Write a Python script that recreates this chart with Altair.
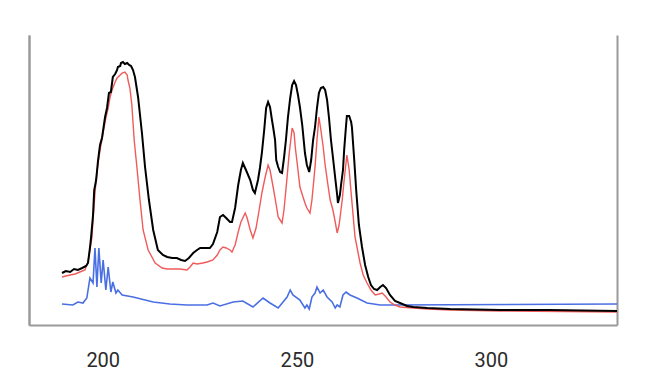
import altair as alt
import pandas as pd

# Black spectrum (total)
black_x = [189.5, 190.5, 191.6, 192.6, 193.6, 194.7, 195.7, 196.2, 196.7, 197.0, 197.5, 197.8, 198.3, 198.8,
           199.3, 199.8, 200.3, 200.6, 201.1, 201.6, 202.1, 202.6, 203.2, 203.7, 203.9, 204.5, 204.7, 205.2,
           205.7, 206.3, 206.8, 207.3, 207.8, 208.3, 209.1, 210.1, 210.9, 211.9, 213.0, 214.2, 215.5, 216.6,
           217.9, 219.1, 220.2, 221.2, 222.2, 223.3, 224.3, 225.1, 226.4, 227.6, 228.4, 229.5, 230.2, 231.0,
           231.8, 232.8, 233.3, 234.1, 234.9, 235.6, 236.1, 236.9, 238.0, 238.7, 239.2, 240.0, 240.5, 241.0,
           241.6, 242.1, 242.6, 243.1, 243.6, 243.9, 244.4, 244.7, 245.2, 245.7, 246.2, 246.7, 247.2, 247.7,
           248.3, 248.8, 249.3, 249.8, 250.3, 250.8, 251.4, 252.1, 252.6, 253.2, 253.7, 254.2, 254.7, 255.2,
           255.7, 256.2, 256.8, 257.3, 257.8, 258.3, 258.8, 259.3, 259.9, 260.4, 260.6, 261.1, 261.4, 261.9,
           262.2, 262.7, 262.9, 263.5, 264.0, 264.2, 264.8, 265.3, 265.5, 266.0, 266.8, 267.6, 268.4, 269.1,
           269.9, 270.7, 271.5, 272.2, 273.0, 274.0, 275.3, 276.6, 278.4, 280.0, 283.6, 289.5, 302.4, 315.3,
           332.5]
black_y = [52, 54, 53, 56, 55, 57, 59, 62, 77, 88, 110, 135, 145, 165,
           180, 187, 200, 208, 217, 232, 233, 248, 251, 255, 258, 259, 262, 263,
           261, 262, 260, 259, 255, 248, 228, 192, 158, 125, 95, 75, 70, 68,
           67, 67, 65, 64, 67, 72, 75, 77, 77, 77, 81, 93, 108, 110,
           107, 103, 103, 117, 140, 155, 162, 155, 145, 135, 132, 145, 157, 172,
           195, 217, 223, 218, 205, 198, 185, 165, 158, 153, 152, 167, 185, 207,
           227, 240, 244, 240, 230, 218, 200, 172, 160, 153, 165, 185, 198, 217,
           232, 237, 238, 235, 225, 207, 185, 168, 147, 130, 122, 130, 140, 155,
           175, 200, 209, 209, 203, 198, 165, 135, 125, 100, 78, 60, 48, 40,
           36, 35, 38, 40, 37, 30, 24, 22, 19, 18, 17, 16, 15, 15,
           14]

# Red spectrum
red_x = [189.5, 190.5, 191.6, 192.9, 194.1, 195.4, 196.2, 196.7, 197.2, 197.5, 198.0, 198.5, 199.3, 199.8,
         200.3, 200.8, 201.4, 201.9, 202.4, 203.2, 203.7, 204.5, 205.0, 205.7, 206.3, 206.5, 207.0, 207.5,
         208.1, 208.8, 209.6, 210.4, 211.7, 213.5, 215.3, 216.6, 218.1, 219.9, 221.7, 222.5, 223.3, 224.3,
         225.8, 226.9, 228.4, 229.5, 230.2, 231.0, 231.8, 232.8, 233.3, 234.1, 234.9, 235.6, 236.7, 237.2,
         238.0, 238.7, 239.5, 240.3, 241.0, 241.8, 242.6, 243.1, 243.9, 244.7, 245.2, 245.7, 246.2, 246.7,
         247.5, 248.0, 248.8, 249.3, 249.6, 250.3, 250.8, 251.6, 252.1, 252.6, 253.4, 253.9, 254.7, 255.2,
         255.7, 256.2, 256.8, 257.3, 258.1, 258.6, 259.3, 259.9, 260.4, 260.9, 261.7, 262.2, 262.9, 263.5,
         264.0, 264.5, 265.0, 265.8, 266.3, 267.1, 268.1, 269.1, 270.2, 271.2, 272.0, 273.0, 274.0, 275.3,
         276.6, 280.0, 283.6, 289.5, 302.4, 332.5]
red_y = [48, 49, 50, 51, 53, 55, 63, 75, 87, 105, 132, 153, 175, 185,
         197, 207, 217, 228, 235, 243, 247, 250, 252, 253, 250, 245, 237, 220,
         185, 158, 125, 95, 75, 62, 57, 56, 56, 56, 55, 58, 62, 61,
         62, 63, 65, 70, 75, 78, 77, 75, 73, 80, 93, 103, 112, 107,
         95, 87, 97, 115, 132, 147, 160, 155, 138, 120, 108, 105, 102, 115,
         148, 170, 197, 192, 178, 155, 138, 128, 122, 117, 112, 125, 158, 185,
         208, 195, 178, 160, 138, 125, 115, 103, 92, 100, 125, 145, 170, 155,
         132, 110, 88, 72, 62, 50, 42, 35, 30, 31, 32, 28, 23, 20,
         18, 17, 16, 15, 14, 13]

# Blue spectrum
blue_x = [189.5, 192.3, 193.6, 194.9, 195.9, 196.7, 197.5, 198.0, 198.5, 199.0, 199.6, 200.1, 200.8, 201.4,
          202.1, 202.6, 203.4, 203.9, 205.0, 207.8, 213.0, 217.3, 221.7, 226.9, 228.4, 230.2, 233.6, 236.1,
          238.7, 241.3, 243.1, 245.2, 247.5, 248.3, 249.0, 250.8, 252.1, 252.6, 253.2, 253.9, 254.7, 255.2,
          256.0, 256.8, 257.8, 259.1, 259.9, 260.4, 261.1, 261.9, 262.7, 263.7, 265.5, 268.1, 271.5, 274.8,
          332.5]
blue_y = [21, 20, 23, 22, 27, 47, 42, 77, 38, 77, 42, 65, 35, 58,
          33, 43, 32, 35, 30, 28, 23, 21, 20, 20, 22, 19, 23, 24,
          18, 27, 22, 17, 28, 35, 30, 25, 17, 20, 16, 28, 32, 38,
          32, 35, 28, 23, 17, 20, 18, 30, 33, 30, 27, 22, 20, 20,
          21]

x_ticks = [200, 250, 300]

black_df = pd.DataFrame({"x": black_x, "y": black_y})
red_df = pd.DataFrame({"x": red_x, "y": red_y})
blue_df = pd.DataFrame({"x": blue_x, "y": blue_y})

AXIS_GRAY = "#9a9a9a"

x_enc = alt.X("x:Q",
              scale=alt.Scale(domain=[181, 332.5], nice=False, zero=False),
              axis=alt.Axis(values=x_ticks, title=None, grid=False, ticks=False, tickSize=0,
                            domainColor=AXIS_GRAY, domainWidth=2,
                            labelFont="Roboto", labelFontSize=20, labelColor="#2b2b2b",
                            labelPadding=25))

def y_enc(orient):
    return alt.Y("y:Q",
                 scale=alt.Scale(domain=[0, 290], nice=False, zero=False),
                 axis=alt.Axis(orient=orient, title=None, grid=False, ticks=False, labels=False,
                               domainColor=AXIS_GRAY, domainWidth=2))

blue = alt.Chart(blue_df).mark_line(color="#4a6fe3", strokeWidth=1.6).encode(
    x=x_enc, y=y_enc("left"))
red = alt.Chart(red_df).mark_line(color="#f05a5a", strokeWidth=1.4).encode(
    x=x_enc, y=y_enc("left"))
black = alt.Chart(black_df).mark_line(color="#000000", strokeWidth=2).encode(
    x=x_enc, y=y_enc("right"))

chart = alt.layer(blue, red, black).resolve_axis(y="independent").properties(
    width=588, height=290,
    background="white",
    padding={"left": 21, "top": 27, "right": 10, "bottom": 50},
    autosize=alt.AutoSizeParams(type="none"),
).configure_view(stroke=None, strokeWidth=0)

chart.save("out.html", embed_options={"renderer": "svg", "actions": False})
